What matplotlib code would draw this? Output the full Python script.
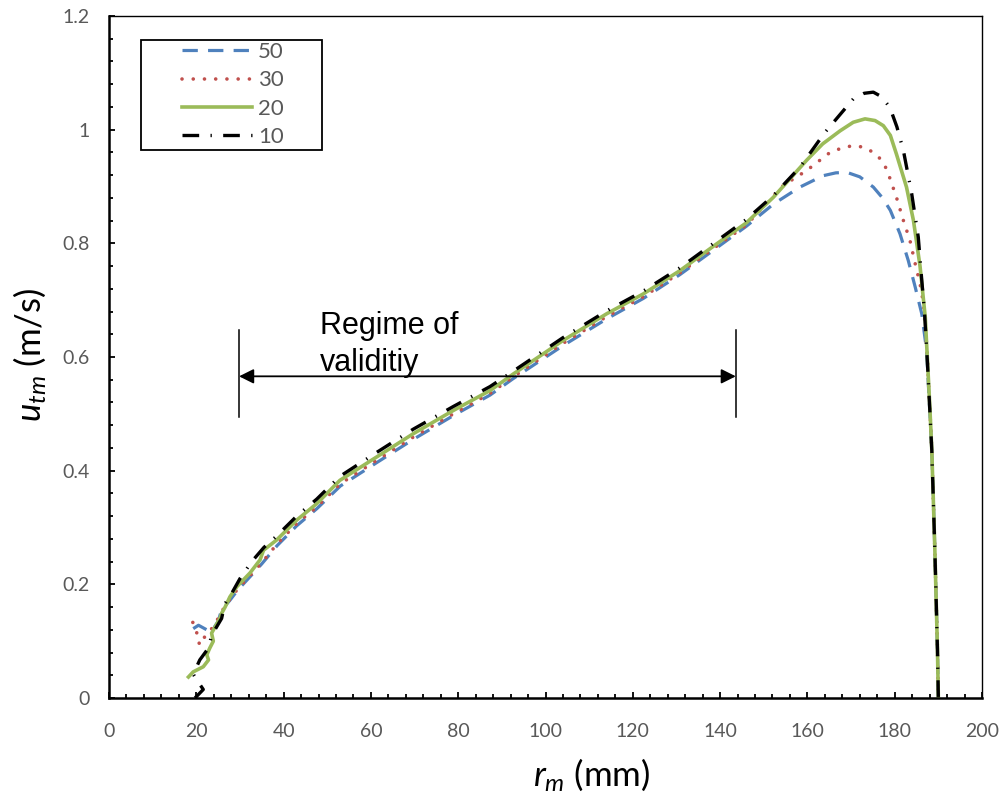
import numpy as np
import matplotlib
matplotlib.use("Agg")
import matplotlib.pyplot as plt
from matplotlib.patches import Rectangle

# data
x50 = [19.3, 20.5, 22.4, 23.5, 25.0, 25.8, 27.7, 29.5, 32.5, 35.0, 38.5, 43.0, 47.6, 53.0, 61.3,
       69.7, 78.9, 87.3, 92.6, 104.0, 114.0, 122.4, 130.8, 139.2, 146.0, 152.2, 158.3, 163.6,
       166.5, 169.0, 172.0, 175.1, 177.2, 179.0, 181.2, 183.1, 184.7, 186.2, 187.3, 188.5, 189.2,
       189.8, 190.0]
y50 = [0.122, 0.128, 0.120, 0.117, 0.135, 0.155, 0.172, 0.190, 0.215, 0.236, 0.268, 0.303, 0.333,
       0.373, 0.414, 0.455, 0.497, 0.533, 0.562, 0.620, 0.667, 0.703, 0.745, 0.792, 0.830, 0.869,
       0.899, 0.919, 0.924, 0.925, 0.917, 0.899, 0.880, 0.858, 0.817, 0.770, 0.723, 0.676, 0.612,
       0.436, 0.260, 0.084, 0.0]

x30 = [19.2, 20.1, 20.1, 21.0, 22.0, 23.1, 25.0, 25.8, 27.7, 29.5, 32.5, 35.0, 38.5, 43.0, 47.6,
       53.0, 61.3, 69.7, 78.9, 87.3, 92.6, 104.0, 114.0, 122.4, 130.8, 139.2, 146.0, 154.5, 159.8,
       165.2, 168.0, 170.5, 173.0, 175.1, 176.8, 178.2, 180.4, 182.0, 183.5, 184.7, 185.8, 186.6,
       187.4, 188.5, 189.2, 189.8, 190.0]
y30 = [0.133, 0.118, 0.102, 0.093, 0.109, 0.117, 0.140, 0.152, 0.174, 0.192, 0.217, 0.238, 0.271,
       0.307, 0.336, 0.377, 0.418, 0.459, 0.500, 0.536, 0.565, 0.624, 0.671, 0.706, 0.748, 0.795,
       0.832, 0.902, 0.928, 0.960, 0.968, 0.972, 0.969, 0.960, 0.948, 0.930, 0.881, 0.840, 0.805,
       0.764, 0.729, 0.694, 0.612, 0.436, 0.260, 0.084, 0.0]

x20 = [18.2, 19.3, 21.6, 22.8, 22.4, 23.1, 23.9, 23.5, 24.3, 25.4, 25.8, 26.6, 27.7, 29.3, 32.3,
       34.6, 35.4, 38.4, 43.0, 47.6, 52.9, 61.3, 69.7, 78.9, 87.3, 92.6, 104.0, 114.0, 122.4, 130.8,
       139.2, 146.0, 152.2, 159.8, 163.5, 167.5, 170.5, 173.2, 175.5, 177.4, 179.0, 180.4, 182.7,
       184.3, 185.8, 187.0, 188.0, 188.5, 189.2, 189.8, 190.0]
y20 = [0.037, 0.046, 0.055, 0.067, 0.076, 0.088, 0.100, 0.114, 0.125, 0.140, 0.149, 0.160, 0.178,
       0.196, 0.220, 0.243, 0.260, 0.278, 0.313, 0.342, 0.383, 0.424, 0.465, 0.506, 0.541, 0.570,
       0.629, 0.676, 0.711, 0.752, 0.799, 0.836, 0.881, 0.946, 0.975, 0.998, 1.013, 1.019, 1.016,
       1.007, 0.990, 0.957, 0.899, 0.840, 0.760, 0.670, 0.520, 0.436, 0.260, 0.084, 0.0]

x10 = [19.7, 21.6, 20.1, 19.3, 20.8, 22.8, 23.5, 25.8, 26.5, 28.1, 30.0, 32.7, 35.5, 38.4, 43.0,
       47.6, 52.9, 61.3, 69.7, 78.9, 87.3, 92.6, 104.0, 114.0, 122.4, 130.8, 139.2, 146.0, 152.2,
       158.3, 164.0, 170.5, 173.0, 175.1, 177.0, 178.9, 180.5, 182.0, 183.9, 185.4, 186.2, 186.8,
       187.5, 188.5, 189.2, 189.8, 190.0]
y10 = [0.0, 0.015, 0.032, 0.042, 0.067, 0.088, 0.110, 0.140, 0.165, 0.184, 0.210, 0.240, 0.265,
       0.285, 0.320, 0.350, 0.390, 0.432, 0.473, 0.513, 0.548, 0.575, 0.634, 0.681, 0.716, 0.757,
       0.804, 0.842, 0.884, 0.934, 0.995, 1.054, 1.064, 1.066, 1.058, 1.039, 1.005, 0.963, 0.887,
       0.811, 0.735, 0.682, 0.590, 0.436, 0.260, 0.084, 0.0]

labels = ["50", "30", "20", "10"]

# regime of validity bounds
regime_x = [29.8, 143.6]
regime_y = 0.566

plt.rcParams['mathtext.fontset'] = 'custom'
plt.rcParams['mathtext.it'] = 'Lato:italic'
plt.rcParams['mathtext.rm'] = 'Lato'

fig = plt.figure(figsize=(10.06, 7.99), dpi=100)
ax = fig.add_axes([109 / 1006, 101 / 799, 873 / 1006, 682 / 799])

ax.plot(x50, y50, color='#4F81BD', lw=2.3, dashes=(4.8, 3.2), label=labels[0])
ax.plot(x30, y30, color='#C0504D', lw=2.6, dashes=(0.01, 3.1), dash_capstyle='round', label=labels[1])
ax.plot(x20, y20, color='#9BBB59', lw=2.6, label=labels[2])
ax.plot(x10, y10, color='black', lw=2.4, dashes=(5.0, 3.4, 0.4, 3.4), label=labels[3])

# annotation
for xv in regime_x:
    ax.plot([xv, xv], [0.494, 0.647], color='black', lw=1.1)
ax.annotate('', xy=(regime_x[0], regime_y), xytext=(regime_x[1], regime_y),
            arrowprops=dict(arrowstyle='<|-|>', color='black', lw=1.3, mutation_scale=22,
                            shrinkA=0, shrinkB=0))
ax.text(48.3, 0.681, 'Regime of\nvaliditiy', fontsize=22, family='Liberation Sans',
        va='top', ha='left', linespacing=1.3)

ax.set_xlim(0, 200)
ax.set_ylim(0, 1.2)
ax.set_xticks(np.arange(0, 201, 20))
ax.set_xticks(np.arange(0, 201, 4), minor=True)
ax.set_yticks(np.arange(0, 1.21, 0.2))
ax.set_yticks(np.arange(0, 1.21, 0.04), minor=True)
ax.set_xticklabels([str(v) for v in range(0, 201, 20)])
ax.set_yticklabels(['0', '0.2', '0.4', '0.6', '0.8', '1', '1.2'])

ax.tick_params(which='both', direction='in', colors='black', labelcolor='#595959',
               labelsize=14)
ax.tick_params(which='major', length=4, width=1.3)
ax.tick_params(which='minor', length=3, width=1.3)
ax.tick_params(axis='x', which='major', pad=18)
ax.tick_params(axis='y', which='major', pad=14)
for lab in ax.get_xticklabels() + ax.get_yticklabels():
    lab.set_family('Lato')

for side in ['left', 'bottom']:
    ax.spines[side].set_linewidth(1.8)
for side in ['top', 'right']:
    ax.spines[side].set_linewidth(1.0)

ax.set_xlabel('$r_m$ (mm)', fontsize=25, family='Lato')
ax.set_ylabel('$u_{tm}$ (m/s)', fontsize=25, family='Lato')
ax.xaxis.set_label_coords(0.553, -0.085)
ax.yaxis.set_label_coords(-0.07, 0.503)

# legend: frame drawn by hand, entries without frame
ax.add_patch(Rectangle((0.0367, 0.8035), 0.2073, 0.1615, transform=ax.transAxes,
                       fill=False, edgecolor='black', lw=1.3, zorder=5))
leg = ax.legend(loc='upper left', bbox_to_anchor=(0.0836, 0.962), frameon=False,
                handlelength=3.15, handletextpad=0.27, labelspacing=0.38, borderpad=0.0,
                borderaxespad=0.0, prop={'family': 'Lato', 'size': 16})
for t in leg.get_texts():
    t.set_color('#595959')

fig.savefig('out.png', dpi=100)
